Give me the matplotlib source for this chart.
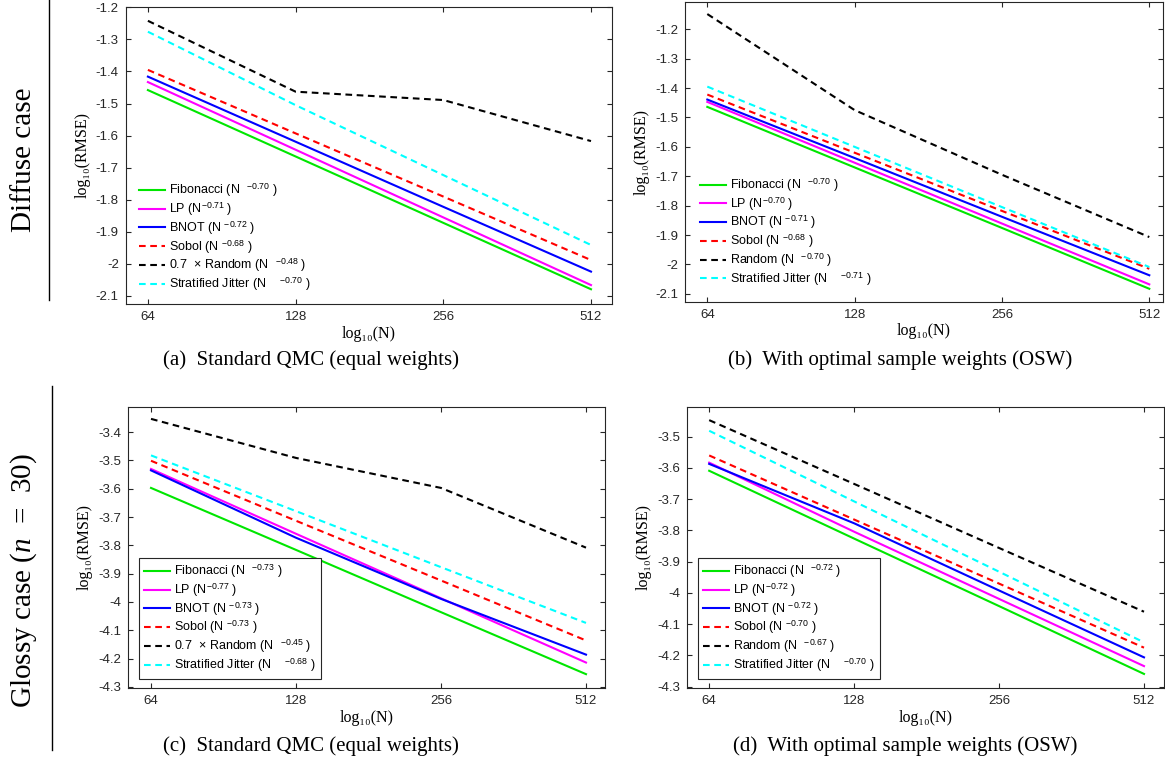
import matplotlib
matplotlib.use("Agg")
import matplotlib.pyplot as plt

plt.rcParams['font.family'] = ['Liberation Sans', 'DejaVu Sans']
plt.rcParams['mathtext.fontset'] = 'custom'
plt.rcParams['mathtext.rm'] = 'Liberation Sans'
plt.rcParams['mathtext.it'] = 'Liberation Serif:italic'

#sample counts
N = [64, 128, 256, 512]

#(a) diffuse, standard QMC
a_fib = [-1.458, -1.665, -1.872, -2.079]
a_lp = [-1.433, -1.644, -1.855, -2.066]
a_bnot = [-1.416, -1.619, -1.822, -2.024]
a_sobol = [-1.395, -1.593, -1.790, -1.988]
a_random = [-1.242, -1.463, -1.489, -1.617]
a_jitter = [-1.276, -1.505, -1.723, -1.941]

#(b) diffuse, OSW
b_fib = [-1.464, -1.670, -1.876, -2.083]
b_lp = [-1.447, -1.654, -1.861, -2.068]
b_bnot = [-1.439, -1.638, -1.838, -2.037]
b_sobol = [-1.422, -1.620, -1.818, -2.015]
b_random = [-1.148, -1.475, -1.695, -1.907]
b_jitter = [-1.395, -1.600, -1.805, -2.009]

#(c) glossy, standard QMC
c_fib = [-3.597, -3.816, -4.036, -4.255]
c_lp = [-3.530, -3.759, -3.987, -4.214]
c_bnot = [-3.535, -3.773, -3.989, -4.186]
c_sobol = [-3.501, -3.713, -3.924, -4.136]
c_random = [-3.353, -3.491, -3.597, -3.808]
c_jitter = [-3.482, -3.679, -3.877, -4.074]

#(d) glossy, OSW
d_fib = [-3.609, -3.826, -4.042, -4.259]
d_lp = [-3.583, -3.804, -4.019, -4.234]
d_bnot = [-3.587, -3.777, -3.992, -4.206]
d_sobol = [-3.560, -3.765, -3.970, -4.175]
d_random = [-3.447, -3.651, -3.856, -4.060]
d_jitter = [-3.481, -3.707, -3.932, -4.158]

#legend labels
a_labels = ['Fibonacci (N  $^{-0.70}$ )', 'LP (N$^{-0.71}$ )', 'BNOT (N $^{-0.72}$ )',
            'Sobol (N $^{-0.68}$ )', '0.7  \u00d7 Random (N  $^{-0.48}$ )', 'Stratified Jitter (N    $^{-0.70}$ )']
b_labels = ['Fibonacci (N  $^{-0.70}$ )', 'LP (N$^{-0.70}$ )', 'BNOT (N $^{-0.71}$ )',
            'Sobol (N $^{-0.68}$ )', 'Random (N  $^{-0.70}$ )', 'Stratified Jitter (N    $^{-0.71}$ )']
c_labels = ['Fibonacci (N  $^{-0.73}$ )', 'LP (N$^{-0.77}$ )', 'BNOT (N $^{-0.73}$ )',
            'Sobol (N $^{-0.73}$ )', '0.7  \u00d7 Random (N  $^{-0.45}$ )', 'Stratified Jitter (N    $^{-0.68}$ )']
d_labels = ['Fibonacci (N  $^{-0.72}$ )', 'LP (N$^{-0.72}$ )', 'BNOT (N $^{-0.72}$ )',
            'Sobol (N $^{-0.70}$ )', 'Random (N  $^{-0.67}$ )', 'Stratified Jitter (N    $^{-0.70}$ )']

a_yticks = [-1.2, -1.3, -1.4, -1.5, -1.6, -1.7, -1.8, -1.9, -2.0, -2.1]
c_yticks = [-3.4, -3.5, -3.6, -3.7, -3.8, -3.9, -4.0, -4.1, -4.2, -4.3]
d_yticks = [-3.5, -3.6, -3.7, -3.8, -3.9, -4.0, -4.1, -4.2, -4.3]

colors = ['#00e600', '#ff00ff', '#0000ff', '#ff0000', '#000000', '#00ffff']
styles = ['-', '-', '-', '--', '--', '--']

W, H = 1165, 761
fig = plt.figure(figsize=(W / 100, H / 100), dpi=100)
grey = '#262626'
serif = ['Liberation Serif', 'DejaVu Serif']


def draw_panel(rect, series, labels, xlim, ylim, yticks, caption, cap_xy, framed, leg_dx, leg_dy):
    #rect is left, top, right, bottom in pixels
    ax = fig.add_axes([rect[0] / W, 1 - rect[3] / H, (rect[2] - rect[0]) / W, (rect[3] - rect[1]) / H])
    for ys, lab, col, ls in zip(series, labels, colors, styles):
        line, = ax.plot(N, ys, color=col, linestyle=ls, linewidth=1.5, label=lab)
        if ls == '--':
            line.set_dashes((3.2, 2.2))
    ax.set_xscale('log', base=2)
    ax.set_xlim(xlim)
    ax.set_ylim(ylim)
    ax.set_xticks(N)
    ax.set_xticklabels([str(n) for n in N])
    ax.minorticks_off()
    ax.set_yticks(yticks)
    ax.set_yticklabels(['%g' % t for t in yticks])
    ax.tick_params(direction='in', top=True, right=True, length=3.5, width=0.8,
                   labelsize=9.5, colors=grey, pad=5)
    for s in ax.spines.values():
        s.set_color(grey)
        s.set_linewidth(0.8)
    ax.set_xlabel('log\u2081\u2080(N)', family=serif, fontsize=11.5, labelpad=2)
    ax.set_ylabel('log\u2081\u2080(RMSE)', family=serif, fontsize=11.5, labelpad=4)
    leg = ax.legend(loc='lower left', fontsize=9, handlelength=2.1, handletextpad=0.3,
                    labelspacing=0.1, borderpad=0.4, borderaxespad=0, frameon=framed,
                    fancybox=False, framealpha=1)
    leg.set_bbox_to_anchor(((rect[0] + leg_dx) / W, (H - rect[3] + leg_dy) / H), transform=fig.transFigure)
    if framed:
        leg.get_frame().set_edgecolor(grey)
        leg.get_frame().set_linewidth(0.8)
    fig.text(cap_xy[0] / W, 1 - cap_xy[1] / H, caption, family=serif,
             fontsize=15, ha='center', va='center')
    return ax


draw_panel((125.7, 6.7, 611.7, 304.0), [a_fib, a_lp, a_bnot, a_sobol, a_random, a_jitter], a_labels,
           (64 * 2 ** (-22.2 / 147.7), 512 * 2 ** (20.7 / 147.7)), (-2.125, -1.198), a_yticks,
           '(a)  Standard QMC (equal weights)', (311, 360), False, 8, 6)
draw_panel((685.0, 1.7, 1163.0, 301.7), [b_fib, b_lp, b_bnot, b_sobol, b_random, b_jitter], b_labels,
           (64 * 2 ** (-22.3 / 147.3), 512 * 2 ** (13.7 / 147.3)), (-2.127, -1.106), a_yticks,
           '(b)  With optimal sample weights (OSW)', (900, 360), False, 10, 9)
draw_panel((128.3, 406.7, 605.0, 688.3), [c_fib, c_lp, c_bnot, c_sobol, c_random, c_jitter], c_labels,
           (64 * 2 ** (-22.7 / 145), 512 * 2 ** (19 / 145)), (-4.305, -3.31), c_yticks,
           '(c)  Standard QMC (equal weights)', (311, 746), True, 10.7, 9.3)
draw_panel((687.2, 406.7, 1164.0, 688.3), [d_fib, d_lp, d_bnot, d_sobol, d_random, d_jitter], d_labels,
           (64 * 2 ** (-22 / 145), 512 * 2 ** (20 / 145)), (-4.305, -3.404), d_yticks,
           '(d)  With optimal sample weights (OSW)', (905, 746), True, 10.8, 9.3)

#row labels with separator lines
fig.text(24 / W, 1 - 160 / H, 'Diffuse case', rotation=90, family=serif,
         fontsize=21, ha='center', va='center')
fig.text(24 / W, 1 - 580 / H, 'Glossy case ($n$  =  30)', rotation=90, family=serif,
         fontsize=21, ha='center', va='center')
fig.add_artist(plt.Line2D([48.5 / W, 48.5 / W], [1 - 0 / H, 1 - 300 / H], color='black', linewidth=1))
fig.add_artist(plt.Line2D([51.5 / W, 51.5 / W], [1 - 386 / H, 1 - 750 / H], color='black', linewidth=1))

fig.savefig('out.png', dpi=100)
